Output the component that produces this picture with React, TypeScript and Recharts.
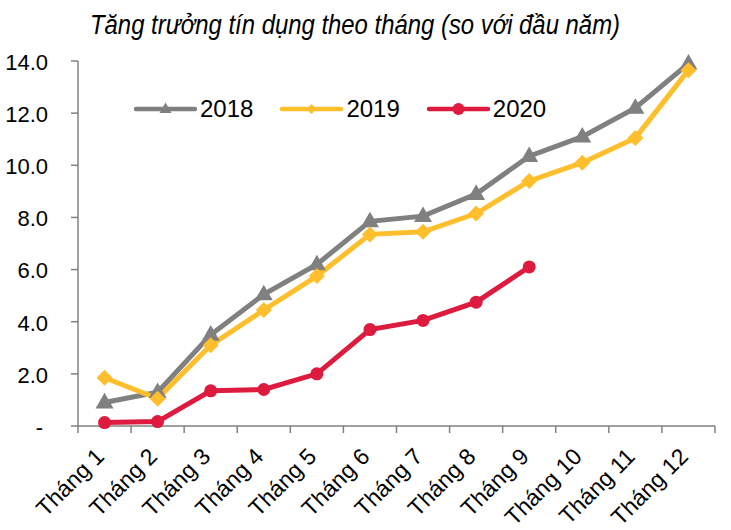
import { Line, LineChart, XAxis, YAxis } from "recharts";

const months = ["Tháng 1", "Tháng 2", "Tháng 3", "Tháng 4", "Tháng 5", "Tháng 6", "Tháng 7", "Tháng 8", "Tháng 9", "Tháng 10", "Tháng 11", "Tháng 12"];
const s2018 = [0.9, 1.3, 3.5, 5.05, 6.2, 7.85, 8.05, 8.9, 10.35, 11.1, 12.2, 13.9];
const s2019 = [1.85, 1.05, 3.1, 4.45, 5.75, 7.35, 7.45, 8.15, 9.4, 10.1, 11.05, 13.65];
const s2020 = [0.13, 0.17, 1.35, 1.4, 2.0, 3.7, 4.05, 4.75, 6.1];
const yTicks = [0, 2, 4, 6, 8, 10, 12, 14];
const bounds = [0.5, 1.5, 2.5, 3.5, 4.5, 5.5, 6.5, 7.5, 8.5, 9.5, 10.5, 11.5, 12.5];
const title = "Tăng trưởng tín dụng theo tháng (so với đầu năm)";

const data = months.map((name, i) => ({
  m: i + 1,
  name,
  y2018: s2018[i],
  y2019: s2019[i],
  y2020: s2020[i],
}));

const GRAY = "#808080";
const YELLOW = "#FFBE2B";
const RED = "#DE1A3F";
const FONT = '"Liberation Sans", Arial, sans-serif';

function Marker({ shape, x, y, r, color }: { shape: string; x: number; y: number; r: number; color: string }) {
  if (shape === "triangle") {
    const h = r * 1.732;
    return <path d={`M${x},${y - h * 0.62} L${x + r},${y + h * 0.38} L${x - r},${y + h * 0.38} Z`} fill={color} />;
  }
  if (shape === "diamond") {
    return <path d={`M${x},${y - r} L${x + r},${y} L${x},${y + r} L${x - r},${y} Z`} fill={color} />;
  }
  return <circle cx={x} cy={y} r={r} fill={color} />;
}

const makeDot = (shape: string, r: number, color: string) => (props: any) => {
  const { cx, cy, index } = props;
  if (cx == null || cy == null || isNaN(cy)) return <g key={`d${index}`} />;
  return (
    <g key={`d${index}`}>
      <Marker shape={shape} x={cx} y={cy} r={r} color={color} />
    </g>
  );
};

const legendItems = [
  { label: "2018", color: GRAY, shape: "triangle", r: 6 },
  { label: "2019", color: YELLOW, shape: "diamond", r: 5 },
  { label: "2020", color: RED, shape: "circle", r: 6 },
];

function LegendBox() {
  return (
    <div
      style={{
        position: "absolute",
        top: 95,
        left: 134,
        display: "flex",
        alignItems: "center",
        fontFamily: FONT,
        fontSize: 24,
        color: "#000",
      }}
    >
      {legendItems.map((it) => (
        <div key={it.label} style={{ display: "flex", alignItems: "center", marginRight: 27 }}>
          <svg width={63} height={20} style={{ marginRight: 3 }}>
            <line x1={2} y1={10} x2={61} y2={10} stroke={it.color} strokeWidth={4.5} strokeLinecap="round" />
            <Marker shape={it.shape} x={31.5} y={10} r={it.r} color={it.color} />
          </svg>
          <span>{it.label}</span>
        </div>
      ))}
    </div>
  );
}

function MonthTick(props: any) {
  const { x, y, payload } = props;
  return (
    <g transform={`translate(${x + 1},${y + 23})`}>
      <text x={0} y={0} textAnchor="end" transform="rotate(-45)" fontFamily={FONT} fontSize={23} fill="#000">
        {months[payload.value - 1]}
      </text>
    </g>
  );
}

function ValueTick(props: any) {
  const { x, y, payload } = props;
  const v = payload.value as number;
  return (
    <text x={v === 0 ? x - 5 : x} y={y} dy="0.4em" textAnchor="end" fontFamily={FONT} fontSize={22} fill="#000">
      {v === 0 ? "-" : v.toFixed(1)}
    </text>
  );
}

export default function App() {
  return (
    <div style={{ position: "absolute", left: 0, top: 0, width: 731, height: 530, background: "#fff" }}>
      <svg width={731} height={50} style={{ position: "absolute", left: 0, top: 0 }}>
        <text
          x={90}
          y={34}
          textLength={530}
          lengthAdjust="spacingAndGlyphs"
          fontFamily={FONT}
          fontStyle="italic"
          fontSize={27}
          fill="#000"
        >
          {title}
        </text>
      </svg>
      <LineChart width={731} height={530} data={data} margin={{ top: 61, right: 16, bottom: 0, left: 0 }}>
        <XAxis
          xAxisId="b"
          dataKey="m"
          type="number"
          domain={[0.5, 12.5]}
          ticks={bounds}
          height={1}
          stroke={GRAY}
          strokeWidth={1.5}
          tickSize={7}
          tickFormatter={() => ""}
        />
        <XAxis
          xAxisId="lab"
          dataKey="m"
          type="number"
          domain={[0.5, 12.5]}
          ticks={data.map((d) => d.m)}
          height={103}
          axisLine={false}
          tickLine={false}
          tick={<MonthTick />}
          interval={0}
        />
        <YAxis
          domain={[0, 14]}
          ticks={yTicks}
          width={78}
          stroke={GRAY}
          strokeWidth={1.5}
          tickSize={7}
          tickMargin={23}
          tick={<ValueTick />}
        />
        <Line xAxisId="lab" dataKey="y2018" stroke={GRAY} strokeWidth={5} dot={makeDot("triangle", 9, GRAY)} isAnimationActive={false} />
        <Line xAxisId="lab" dataKey="y2019" stroke={YELLOW} strokeWidth={5} dot={makeDot("diamond", 8, YELLOW)} isAnimationActive={false} />
        <Line xAxisId="lab" dataKey="y2020" stroke={RED} strokeWidth={5} dot={makeDot("circle", 6.5, RED)} isAnimationActive={false} />
      </LineChart>
      <LegendBox />
    </div>
  );
}
